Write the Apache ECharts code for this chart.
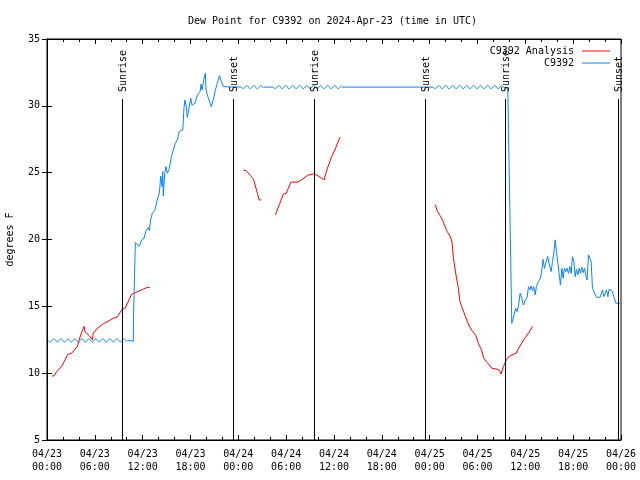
<!DOCTYPE html>
<html><head><meta charset="utf-8">
<script src="https://cdn.jsdelivr.net/npm/echarts@6/dist/echarts.min.js"></script>
<style>html,body{margin:0;padding:0;background:#fff}#c{width:640px;height:480px}</style>
</head><body><div id="c"></div>
<script>
const FONT = 'DejaVu Sans Mono';
const RED = '#ff0000';
const BLUE = '#0a84ff';
const titleText = 'Dew Point for C9392 on 2024-Apr-23 (time in UTC)';
const yAxisName = 'degrees F';
const xTickLabels = ['04/23\n00:00','04/23\n06:00','04/23\n12:00','04/23\n18:00',
  '04/24\n00:00','04/24\n06:00','04/24\n12:00','04/24\n18:00',
  '04/25\n00:00','04/25\n06:00','04/25\n12:00','04/25\n18:00','04/26\n00:00'];

// hours since 04/23 00:00 UTC; null marks a gap
const analysisHours = [0.59,0.88,1.2,1.84,2.6,3.1,3.8,4.14,4.64,4.77,5.3,5.7,5.8,6.4,7.07,7.7,8.3,8.8,9.5,9.8,10.3,10.6,11.0,11.25,12.1,12.5,12.9,
  18,
  24.6,25.0,25.5,25.9,26.4,26.6,26.9,
  27.8,
  28.65,28.9,29.2,29.65,30.0,30.6,31.5,32.0,32.7,33.4,33.8,34.25,34.75,35.1,35.7,36.1,36.75,
  42,
  48.7,48.97,49.3,49.65,49.9,50.2,50.6,50.8,51.0,51.3,51.6,51.8,52.2,52.45,52.9,53.3,53.8,54.1,54.5,54.8,55.2,55.8,56.4,56.75,56.96,57.25,57.7,58.1,58.85,59.1,59.8,60.4,60.9];
const analysisValues = [9.79,9.8,10.1,10.5,11.4,11.5,12.0,12.7,13.5,13.1,12.8,12.5,13.0,13.4,13.7,13.9,14.1,14.2,14.85,14.85,15.5,15.9,16.0,16.1,16.3,16.4,16.43,
  null,
  25.2,25.15,24.8,24.5,23.45,22.96,22.96,
  null,
  21.84,21.84,22.7,23.4,23.46,24.3,24.3,24.5,24.8,24.9,24.83,24.66,24.45,25.2,26.2,26.7,27.65,
  null,
  22.6,22.1,21.8,21.4,21.0,20.6,20.2,19.8,18.5,17.35,16.35,15.35,14.7,14.3,13.6,13.2,12.8,12.24,11.74,11.1,10.8,10.37,10.3,10.2,9.94,10.5,11.1,11.3,11.5,11.8,12.5,13.0,13.5];

const stationHours = [10.08,10.83,10.85,11.05,11.08,11.33,11.58,11.88,12.17,12.42,12.71,12.84,13.01,13.21,13.55,13.76,14.09,14.27,14.43,14.52,14.59,14.77,14.93,15.09,15.35,15.6,15.85,16.1,16.35,16.6,17.03,17.19,17.31,17.44,17.6,17.85,18.03,18.19,18.36,18.57,18.86,19.2,19.32,19.45,19.7,19.86,19.95,20.11,20.36,20.61,20.87,21.12,21.37,21.62,21.87,22.12,24.4,
  25.5,
  27.15,28.4,
  30,
  36.97,48.47,
  50,
  57.25,57.8,57.88,58.05,58.22,58.3,58.43,58.63,58.8,58.97,59.13,59.35,59.56,59.76,59.97,60.23,60.39,60.56,60.73,60.89,61.07,61.23,61.39,61.64,61.89,62.07,62.23,62.4,62.57,62.82,62.99,63.24,63.4,63.58,63.74,63.9,64.08,64.24,64.4,64.58,64.74,64.9,65.08,65.24,65.41,65.58,65.75,65.91,66.09,66.25,66.41,66.59,66.75,66.91,67.09,67.25,67.42,67.59,67.75,67.92,68.09,68.26,68.42,68.67,68.92,69.39,69.67,69.85,70.01,70.18,70.35,70.51,70.93,71.1,71.35,71.89];
const stationValues = [12.45,12.4,14.1,14.1,19.77,19.9,19.5,19.97,20.1,20.66,20.9,20.66,21.5,21.96,22.2,22.83,23.46,24.75,23.95,25.08,23.26,25.0,25.45,24.96,25.33,26.2,26.3,27.2,27.45,28.1,28.2,29.9,30.44,30.06,29.14,29.14,30.56,30.06,29.94,30.19,30.81,31.06,31.63,31.19,32.06,32.43,31.19,30.81,30.81,29.94,30.49,31.19,31.69,32.26,31.8,31.43,31.4,
  null,
  31.4,31.4,
  null,
  31.4,31.4,
  null,
  31.4,31.3,28.3,22.46,16.6,13.73,13.98,14.48,14.86,14.6,14.98,15.98,15.6,15.1,15.43,15.68,16.47,16.23,16.53,16.18,16.47,15.85,16.47,16.85,17.1,17.72,18.52,17.85,18.27,18.72,18.17,17.6,18.35,19.0,19.97,19.1,18.27,18.27,16.6,17.85,17.1,17.85,17.6,17.85,17.47,17.97,17.47,18.72,18.35,17.22,17.77,17.35,17.85,17.47,17.92,17.52,17.85,17.27,16.97,18.85,18.6,18.35,16.35,16.35,15.68,15.68,16.23,15.73,15.73,16.23,15.73,16.28,16.1,15.73,15.23,15.23];

// stretches of the station series drawn wavy (constant values)
const waveStart = [0.2, 24.4, 28.4, 48.47];
const waveEnd = [10.08, 27.15, 36.97, 57.25];
const waveValue = [12.45, 31.4, 31.4, 31.4];

const sunHours = [9.45, 23.38, 33.54, 47.47, 57.5, 71.68];
const sunLabels = ['Sunrise','Sunset','Sunrise','Sunset','Sunrise','Sunset'];

const toPairs = (hs, vs) => hs.map((h, i) => [h, vs[i] === null ? '-' : vs[i]]);

const chart = echarts.init(document.getElementById('c'), null, {renderer: 'canvas'});
const txt = {fontFamily: FONT, fontSize: 10, color: '#000'};
const xBase = {
  type: 'value', min: 0, max: 72, interval: 6,
  axisLine: {show: true, lineStyle: {color: '#000', width: 1}},
  axisTick: {show: true, inside: true, length: 5, lineStyle: {color: '#000'}},
  minorTick: {show: true, splitNumber: 3, length: 3, lineStyle: {color: '#000'}},
  splitLine: {show: false}, minorSplitLine: {show: false}
};
const yBase = {
  type: 'value', min: 5, max: 35, interval: 5,
  axisLine: {show: true, lineStyle: {color: '#000', width: 1}},
  axisTick: {show: true, inside: true, length: 5, lineStyle: {color: '#000'}},
  splitLine: {show: false}
};
chart.setOption({
  animation: false,
  backgroundColor: '#fff',
  title: {text: titleText, left: 188, top: 15, padding: 0,
    textStyle: Object.assign({fontWeight: 'normal', lineHeight: 12}, txt)},
  legend: {
    data: [{name: 'C9392 Analysis', icon: 'rect'}, {name: 'C9392', icon: 'rect'}],
    orient: 'vertical', right: 30, top: 46,
    align: 'right', itemWidth: 28, itemHeight: 1, itemGap: 2, padding: 0,
    textStyle: Object.assign({lineHeight: 10, padding: [0, 3, 0, 0]}, txt)
  },
  grid: {left: 47, right: 19, top: 39, bottom: 40, show: true, borderColor: '#000', borderWidth: 1,
    containLabel: false, outerBoundsMode: 'none'},
  xAxis: [
    Object.assign({}, xBase, {position: 'bottom',
      axisLabel: Object.assign({margin: 8, lineHeight: 13, formatter: v => xTickLabels[Math.round(v / 6)]}, txt)}),
    Object.assign({}, xBase, {position: 'top', axisLabel: {show: false}})
  ],
  yAxis: [
    Object.assign({}, yBase, {position: 'left', axisLabel: Object.assign({margin: 7}, txt),
      name: yAxisName, nameLocation: 'middle', nameGap: 32, nameRotate: 90, nameTextStyle: txt}),
    Object.assign({}, yBase, {position: 'right', axisLabel: {show: false}})
  ],
  series: [
    {name: 'C9392 Analysis', type: 'line', data: toPairs(analysisHours, analysisValues),
      showSymbol: false, symbol: 'none', connectNulls: false, color: RED,
      itemStyle: {color: RED}, lineStyle: {color: RED, width: 1}, z: 3},
    {name: 'C9392', type: 'line', data: toPairs(stationHours, stationValues),
      showSymbol: false, symbol: 'none', connectNulls: false, color: BLUE,
      itemStyle: {color: BLUE}, lineStyle: {color: BLUE, width: 1}, z: 3},
    {name: 'waves', type: 'custom', z: 3,
      data: waveStart.map((s, i) => [s, waveEnd[i], waveValue[i]]),
      encode: {x: [0, 1], y: 2},
      renderItem: (params, api) => {
        const p0 = api.coord([api.value(0), api.value(2)]);
        const p1 = api.coord([api.value(1), api.value(2)]);
        const pts = [];
        for (let x = p0[0]; x <= p1[0] + 0.01; x += 0.5) {
          pts.push([x, p0[1] + 1.6 * Math.sin((x - p0[0]) / 7 * 2 * Math.PI)]);
        }
        return {type: 'polyline', shape: {points: pts}, style: {stroke: BLUE, lineWidth: 1, fill: null}};
      }},
    {name: 'sun', type: 'custom', z: 4, clip: false,
      data: sunHours.map(h => [h, 5]),
      encode: {x: 0, y: 1},
      renderItem: (params, api) => {
        const top = api.coord([api.value(0), 35]);
        const bot = api.coord([api.value(0), 5]);
        const x = Math.round(top[0]) + 0.5;
        const y0 = top[1] + 60;
        return {type: 'group', children: [
          {type: 'line', shape: {x1: x, y1: y0, x2: x, y2: bot[1]}, style: {stroke: '#000', lineWidth: 1}},
          {type: 'text', x: x + 1, y: y0 - 7, rotation: Math.PI / 2,
            style: {text: sunLabels[params.dataIndex], x: 0, y: 0, align: 'left', verticalAlign: 'middle',
              font: '10px ' + FONT, fill: '#000'}}
        ]};
      }}
  ]
});
</script></body></html>
